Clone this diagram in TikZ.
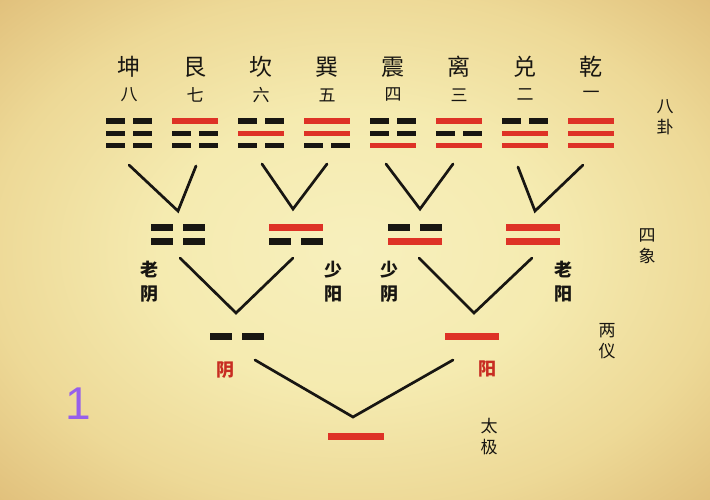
\documentclass[tikz,border=0pt]{standalone}
\usepackage{fontspec}
\newfontfamily\cjk{Noto Sans CJK SC}
\newfontfamily\digitfont{Liberation Sans}
\definecolor{inkc}{RGB}{24,22,18}
\definecolor{redc}{RGB}{222,50,38}
\definecolor{purplec}{RGB}{150,95,235}
\pgfdeclareradialshading{parch}{\pgfpoint{0bp}{0bp}}{%
  rgb(0bp)=(0.97,0.94,0.74);
  rgb(14bp)=(0.96,0.92,0.69);
  rgb(26bp)=(0.93,0.85,0.59);
  rgb(36bp)=(0.88,0.75,0.48);
  rgb(50bp)=(0.80,0.61,0.35)}
% one line (yao): #1 cx, #2 cy, #3 half width, #4 half gap, #5 type (1 yang, 0 yin)
\newcommand\yaoline[5]{%
  \ifnum#5=1
    \draw[yangbar] (#1-#3,#2) -- (#1+#3,#2);
  \else
    \draw[yinbar] (#1-#3,#2) -- (#1-#4,#2) (#1+#4,#2) -- (#1+#3,#2);
  \fi}
\begin{document}
\begin{tikzpicture}[x=1pt,y=-1pt,
  yangbar/.style={draw=redc, line cap=butt},
  yinbar/.style={draw=inkc, line cap=butt},
  guaname/.style={font=\cjk\fontsize{23}{23}\selectfont, text=inkc, inner sep=0pt},
  numlabel/.style={font=\cjk\fontsize{17}{17}\selectfont, text=inkc, inner sep=0pt},
  sidelabel/.style={font=\cjk\fontsize{17}{21}\selectfont, text=inkc, inner sep=0pt, align=center},
  brush/.style={font=\cjk\bfseries\fontsize{18}{24}\selectfont, text=inkc, inner sep=0pt, align=center},
  redbrush/.style={brush, text=redc!90!black},
  link/.style={draw=inkc, line width=2.7pt, line join=miter, line cap=round}]
\useasboundingbox (0,0) rectangle (710,500);
\shade[shading=parch] (0,0) rectangle (710,500);

% trigram names and numbers
\foreach \cx/\nm/\nb [count=\i] in {129/坤/八,195/艮/七,261/坎/六,327/巽/五,393/震/四,459/离/三,525/兑/二,591/乾/一}{
  \node[guaname] (name\i) at (\cx,67) {\nm};
  \node[numlabel] (num\i) at (\cx,95) {\nb};
}

% eight trigrams (top, middle, bottom)
\begin{scope}[line width=5.5pt]
\foreach \cx/\a/\b/\c in {129/0/0/0,195/1/0/0,261/0/1/0,327/1/1/0,393/0/0/1,459/1/0/1,525/0/1/1,591/1/1/1}{
  \yaoline{\cx}{121}{23}{4}{\a}
  \yaoline{\cx}{133.3}{23}{4}{\b}
  \yaoline{\cx}{145.6}{23}{4}{\c}
}
\end{scope}

% four images
\begin{scope}[line width=7pt]
\foreach \cx/\a/\b in {178/0/0,296/1/0,415/0/1,533/1/1}{
  \yaoline{\cx}{227.5}{27}{5}{\a}
  \yaoline{\cx}{241.5}{27}{5}{\b}
}
% two modes
\yaoline{237}{336}{27}{5}{0}
\yaoline{472}{336}{27}{5}{1}
% taiji
\yaoline{356}{436.5}{28}{5}{1}
\end{scope}

% connector points
\coordinate (a1) at (129,165); \coordinate (v1) at (178,211); \coordinate (b1) at (196,166);
\coordinate (a2) at (262,164); \coordinate (v2) at (293,209); \coordinate (b2) at (327,164);
\coordinate (a3) at (386,164); \coordinate (v3) at (420,209); \coordinate (b3) at (453,164);
\coordinate (a4) at (518,167); \coordinate (v4) at (535,211); \coordinate (b4) at (583,165);
\coordinate (c1) at (180,258); \coordinate (w1) at (236,313); \coordinate (d1) at (293,258);
\coordinate (c2) at (419,258); \coordinate (w2) at (474,313); \coordinate (d2) at (532,258);
\coordinate (e1) at (255,360); \coordinate (u1) at (353,417); \coordinate (f1) at (453,360);

\draw[link] (a1) -- (v1) -- (b1);
\draw[link] (a2) -- (v2) -- (b2);
\draw[link] (a3) -- (v3) -- (b3);
\draw[link] (a4) -- (v4) -- (b4);
\draw[link] (c1) -- (w1) -- (d1);
\draw[link] (c2) -- (w2) -- (d2);
\draw[link] (e1) -- (u1) -- (f1);

% labels
\node[brush] (laoyin) at (149,282) {老\\阴};
\node[brush] (shaoyang) at (333,282) {少\\阳};
\node[brush] (shaoyin) at (389,282) {少\\阴};
\node[brush] (laoyang) at (563,282) {老\\阳};
\node[redbrush] (yin) at (225,370) {阴};
\node[redbrush] (yang) at (487,369) {阳};

\node[sidelabel] (bagua) at (665,117) {八\\卦};
\node[sidelabel] (sixiang) at (647,246) {四\\象};
\node[sidelabel] (liangyi) at (607,341) {两\\仪};
\node[sidelabel] (taiji) at (489,437) {太\\极};

\node[font=\digitfont\fontsize{46}{46}\selectfont, text=purplec, inner sep=0pt] (one) at (78,404) {1};
\end{tikzpicture}
\end{document}
